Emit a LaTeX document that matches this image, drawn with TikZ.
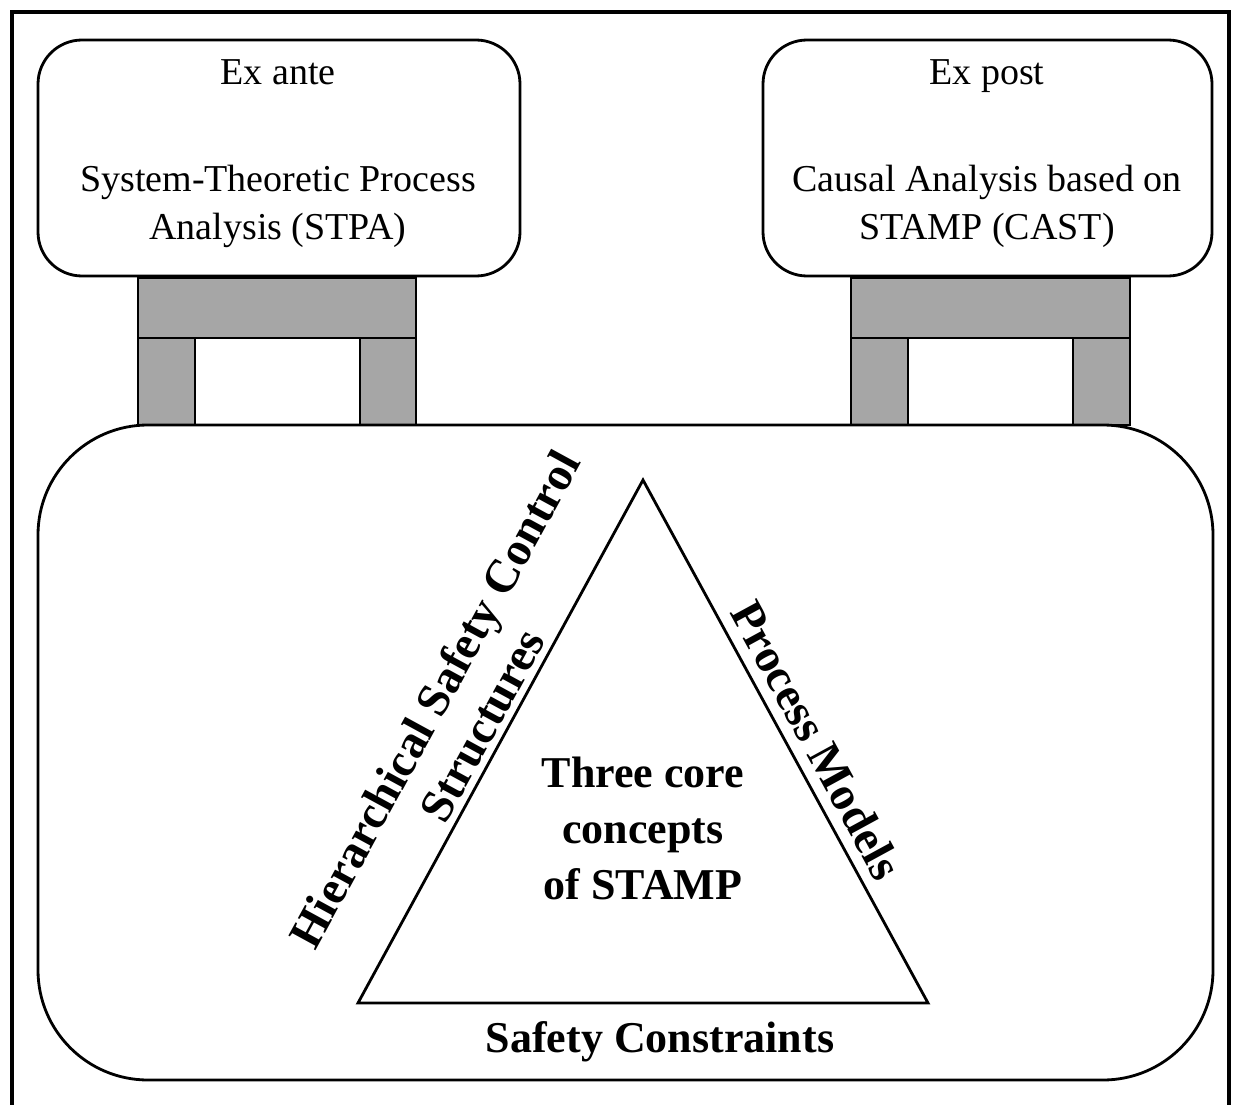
\documentclass[tikz,border=0pt]{standalone}
\usepackage{fontspec}
\setmainfont{Liberation Serif}
\begin{document}
\begin{tikzpicture}[x=1pt,y=-1pt,
  boxline/.style={draw=black,line width=2.8pt},
  frameline/.style={draw=black,line width=3.5pt},
  graypart/.style={draw=black,fill=black!35,line width=2.8pt},
  rbox/.style={boxline,rounded corners=44pt},
  plain/.style={font=\fontsize{38}{48}\selectfont,align=center,inner sep=0pt},
  boldtxt/.style={font=\fontsize{44}{56}\selectfont\bfseries,align=center,inner sep=0pt},
  sidetxt/.style={font=\fontsize{47}{54}\selectfont\bfseries,align=center,inner sep=0pt}]
\useasboundingbox (0,0) rectangle (1239,1105);
% outer frame (open at the bottom)
\draw[frameline] (12,1105) -- (12,12) -- (1229,12) -- (1229,1105);
% gray stands
\draw[graypart] (138,278) rectangle (416,338);
\draw[graypart] (138,338) rectangle (195,425);
\draw[graypart] (360,338) rectangle (416,425);
\draw[graypart] (851,278) rectangle (1130,338);
\draw[graypart] (851,338) rectangle (908,425);
\draw[graypart] (1073,338) rectangle (1130,425);
% top boxes
\draw[rbox,fill=white] (38,40) rectangle (520,276);
\draw[rbox,fill=white] (763,40) rectangle (1212,276);
% big box
\draw[boxline,rounded corners=110pt] (38,425) rectangle (1213,1080);
% triangle
\coordinate (apex) at (643,480);
\coordinate (bl) at (358,1003);
\coordinate (br) at (928,1003);
\draw[boxline,line join=miter] (apex) -- (bl) -- (br) -- cycle;
% texts
\node[plain,anchor=base] (exante) at (278,85) {Ex ante};
\node[plain] (stpa) at (278,206) {System-Theoretic Process\\Analysis (STPA)};
\node[plain,anchor=base] (expost) at (987,85) {Ex post};
\node[plain] (cast) at (987,206) {Causal Analysis based on\\STAMP (CAST)};
\node[boldtxt] (core) at (643,828) {Three core\\concepts\\of STAMP};
\node[boldtxt] (sc) at (660,1042) {Safety Constraints};
\node[sidetxt,rotate=61.4] (hsc) at (458,712) {Hierarchical Safety Control\\Structures};
\node[sidetxt,rotate=-61.4] (pm) at (817,740) {Process Models};
\end{tikzpicture}
\end{document}
